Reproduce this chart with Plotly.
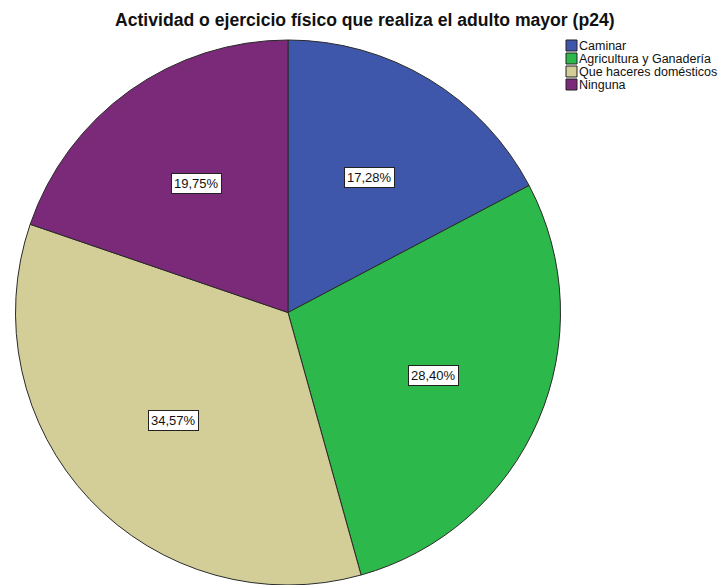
import math
import plotly.graph_objects as go

categories = ["Caminar", "Agricultura y Ganadería", "Que haceres domésticos", "Ninguna"]
counts = [14, 23, 28, 16]
colors = ["#3E57AB", "#2DB84B", "#D3CE98", "#7B2979"]
title = "Actividad o ejercicio físico que realiza el adulto mayor (p24)"

OFF = 8  # page body margin
W, H = 727 - OFF, 585 - OFF
cx, cy, R = 288.0 - OFF, 312.5 - OFF, 272.5
FONT = "Liberation Sans, Arial"

fig = go.Figure(go.Pie(
    labels=categories, values=counts, sort=False, direction="clockwise",
    rotation=0, marker=dict(colors=colors, line=dict(color="#2a2a2a", width=1)),
    textinfo="none", hoverinfo="label+percent", showlegend=False,
    domain=dict(x=[(cx - R) / W, (cx + R) / W], y=[max(0, 1 - (cy + R) / H), 1 - (cy - R) / H]),
))

total = sum(counts)
annotations = []
cum = 0
for c in counts:
    frac = c / total
    mid = (cum + frac / 2) * 2 * math.pi
    cum += frac
    d = R * 0.58
    px = cx + d * math.sin(mid)
    py = cy - d * math.cos(mid)
    annotations.append(dict(
        x=px / W, y=1 - py / H, xref="paper", yref="paper", showarrow=False,
        xanchor="center", yanchor="middle",
        text=f"{frac*100:.2f}%".replace(".", ","),
        font=dict(family=FONT, size=13, color="#111"),
        bgcolor="white", bordercolor="#222", borderwidth=1, borderpad=2,
    ))

# manual legend
shapes = []
lx, ly0, step, sq = 566 - OFF, 40 - OFF, 13, 11
for i, (name, col) in enumerate(zip(categories, colors)):
    top = ly0 + i * step
    shapes.append(dict(type="rect", xref="paper", yref="paper",
                       x0=lx / W, x1=(lx + sq) / W, y0=1 - (top + sq) / H, y1=1 - top / H,
                       fillcolor=col, line=dict(color="#222", width=1)))
    annotations.append(dict(
        x=(lx + sq) / W, y=1 - (top + sq / 2 + 0.5) / H, xref="paper", yref="paper",
        xanchor="left", yanchor="middle", showarrow=False, text=name,
        font=dict(family=FONT, size=12.5, color="#111"),
    ))

annotations.append(dict(
    x=(365 - OFF) / W, y=1 - (20 - OFF) / H, xref="paper", yref="paper", showarrow=False,
    xanchor="center", yanchor="middle", text=f"<b>{title}</b>",
    font=dict(family=FONT, size=17.6, color="#111"),
))

fig.update_layout(
    width=W, height=H, margin=dict(l=0, r=0, t=0, b=0),
    paper_bgcolor="white", plot_bgcolor="white",
    annotations=annotations, shapes=shapes,
)
fig.write_html("out.html")
